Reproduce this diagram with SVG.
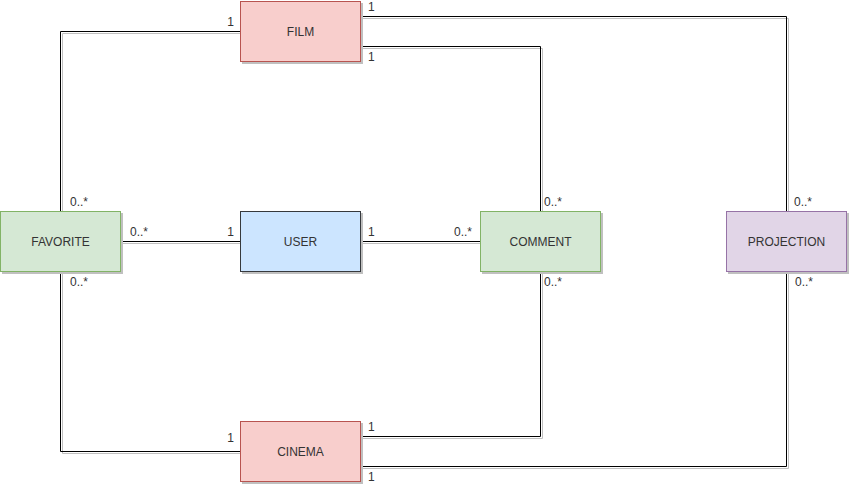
<svg xmlns="http://www.w3.org/2000/svg" width="849" height="495" viewBox="0 0 849 495">
<style>
.sh{fill:#c0c0c0;stroke:#c0c0c0;stroke-width:1}
.lsh{fill:none;stroke:#c0c0c0;stroke-width:1}
.ln{fill:none;stroke:#000;stroke-width:1}
.lbl{font-family:"Liberation Sans",Arial,sans-serif;font-size:12px;fill:#333}
.nt{font-family:"Liberation Sans",Arial,sans-serif;font-size:12px;fill:#333;text-anchor:middle}
</style>
<rect width="849" height="495" fill="#fff"/>
<g id="connectors">
<g transform="translate(2,2)" class="lsh">
<path d="M240.5 31.5H60.5V211.5"/>
<path d="M360.5 16.5H786.5V211.5"/>
<path d="M360.5 46.5H540.5V211.5"/>
<path d="M120.5 241.5H240.5"/>
<path d="M360.5 241.5H480.5"/>
<path d="M60.5 271.5V451.5H240.5"/>
<path d="M360.5 436.5H540.5V271.5"/>
<path d="M360.5 466.5H786.5V271.5"/>
</g>
<g class="ln">
<path d="M240.5 31.5H60.5V211.5"/>
<path d="M360.5 16.5H786.5V211.5"/>
<path d="M360.5 46.5H540.5V211.5"/>
<path d="M120.5 241.5H240.5"/>
<path d="M360.5 241.5H480.5"/>
<path d="M60.5 271.5V451.5H240.5"/>
<path d="M360.5 436.5H540.5V271.5"/>
<path d="M360.5 466.5H786.5V271.5"/>
</g>
<g class="lbl">
<text x="234" y="26" text-anchor="end">1</text>
<text x="368" y="11">1</text>
<text x="368" y="61">1</text>
<text x="70" y="206">0..*</text>
<text x="130" y="236">0..*</text>
<text x="234" y="236" text-anchor="end">1</text>
<text x="70" y="286">0..*</text>
<text x="368" y="236">1</text>
<text x="472" y="236" text-anchor="end">0..*</text>
<text x="544" y="206">0..*</text>
<text x="544" y="286">0..*</text>
<text x="794" y="206">0..*</text>
<text x="795" y="286">0..*</text>
<text x="234" y="442" text-anchor="end">1</text>
<text x="368" y="431">1</text>
<text x="368" y="481">1</text>
</g>
</g>
<g id="film">
<rect class="sh" x="242.5" y="3.5" width="120" height="60"/>
<rect x="240.5" y="1.5" width="120" height="60" fill="#f8cecc" stroke="#b85450"/>
<text class="nt" x="300.5" y="35.5">FILM</text>
</g>
<g id="favorite">
<rect class="sh" x="2.5" y="213.5" width="120" height="60"/>
<rect x="0.5" y="211.5" width="120" height="60" fill="#d5e8d4" stroke="#82b366"/>
<text class="nt" x="60.5" y="245.5">FAVORITE</text>
</g>
<g id="user">
<rect class="sh" x="242.5" y="213.5" width="120" height="60"/>
<rect x="240.5" y="211.5" width="120" height="60" fill="#cce5ff" stroke="#36393d"/>
<text class="nt" x="300.5" y="245.5">USER</text>
</g>
<g id="comment">
<rect class="sh" x="482.5" y="213.5" width="120" height="60"/>
<rect x="480.5" y="211.5" width="120" height="60" fill="#d5e8d4" stroke="#82b366"/>
<text class="nt" x="540.5" y="245.5">COMMENT</text>
</g>
<g id="projection">
<rect class="sh" x="728.5" y="213.5" width="120" height="60"/>
<rect x="726.5" y="211.5" width="120" height="60" fill="#e1d5e7" stroke="#9673a6"/>
<text class="nt" x="786.5" y="245.5">PROJECTION</text>
</g>
<g id="cinema">
<rect class="sh" x="242.5" y="423.5" width="120" height="60"/>
<rect x="240.5" y="421.5" width="120" height="60" fill="#f8cecc" stroke="#b85450"/>
<text class="nt" x="300.5" y="455.5">CINEMA</text>
</g>
</svg>
